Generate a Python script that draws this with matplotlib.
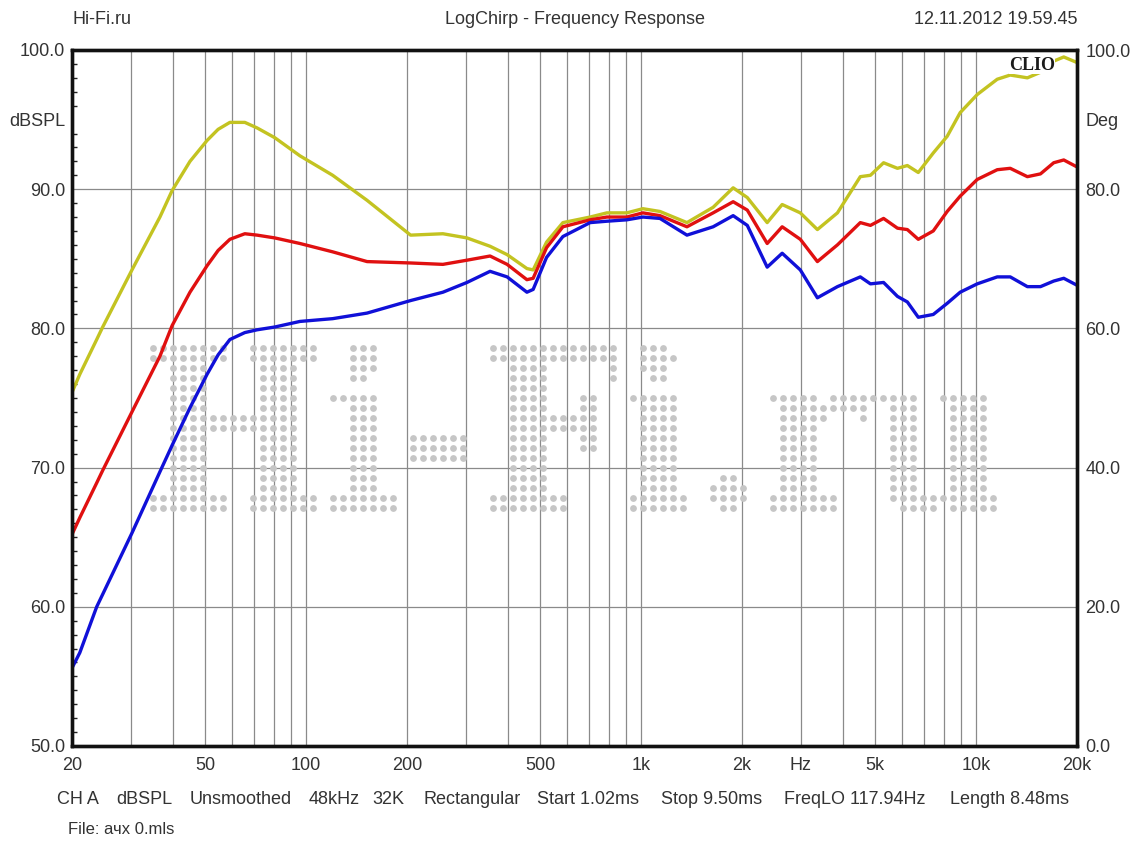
import numpy as np
import matplotlib
matplotlib.use("Agg")
import matplotlib.pyplot as plt
from matplotlib.textpath import TextPath
from matplotlib.font_manager import FontProperties
from matplotlib.ticker import FixedLocator, NullFormatter

plt.rcParams["font.family"] = ["Liberation Sans", "DejaVu Sans"]

# frequency points (Hz)
freq = [20, 21.1, 23.7, 24.7, 30.2, 36.6, 39.8, 45.0, 50.6, 54.6, 59.2, 65.6, 71.4,
        80.6, 95.8, 120, 152, 205, 256, 302, 354, 398, 456, 476, 522, 584, 704,
        790, 906, 1012, 1138, 1370, 1640, 1882, 2074, 2378, 2636, 2986, 3358,
        3854, 4510, 4836, 5292, 5822, 6232, 6718, 7446, 8194, 8960, 10074, 11560,
        12640, 14220, 15560, 17040, 18260, 20000]

yellow_db = [75.4, 76.7, 79.2, 80.1, 84.2, 88.0, 89.9, 92.0, 93.5, 94.3, 94.8, 94.8,
             94.4, 93.7, 92.4, 91.0, 89.2, 86.7, 86.8, 86.5, 85.9, 85.3, 84.3, 84.2,
             86.2, 87.6, 88.0, 88.3, 88.3, 88.6, 88.4, 87.6, 88.7, 90.1, 89.4, 87.6,
             88.9, 88.3, 87.1, 88.3, 90.9, 91.0, 91.9, 91.5, 91.7, 91.2, 92.6, 93.8,
             95.5, 96.8, 97.9, 98.2, 98.0, 98.4, 99.2, 99.5, 99.1]

red_db = [65.2, 66.4, 68.9, 69.8, 74.0, 78.0, 80.2, 82.6, 84.5, 85.6, 86.4, 86.8,
          86.7, 86.5, 86.1, 85.5, 84.8, 84.7, 84.6, 84.9, 85.2, 84.6, 83.5, 83.6,
          85.8, 87.3, 87.8, 88.0, 88.0, 88.3, 88.1, 87.3, 88.3, 89.1, 88.5, 86.1,
          87.3, 86.4, 84.8, 86.0, 87.6, 87.4, 87.9, 87.2, 87.1, 86.4, 87.0, 88.4,
          89.5, 90.7, 91.4, 91.5, 90.9, 91.1, 91.9, 92.1, 91.6]

blue_db = [55.6, 56.7, 60.0, 60.9, 65.3, 69.7, 71.6, 74.3, 76.7, 78.1, 79.2, 79.7,
           79.9, 80.1, 80.5, 80.7, 81.1, 82.0, 82.6, 83.3, 84.1, 83.7, 82.6, 82.8,
           85.1, 86.6, 87.6, 87.7, 87.8, 88.0, 87.9, 86.7, 87.3, 88.1, 87.4, 84.4,
           85.4, 84.2, 82.2, 83.0, 83.7, 83.2, 83.3, 82.3, 81.9, 80.8, 81.0, 81.8,
           82.6, 83.2, 83.7, 83.7, 83.0, 83.0, 83.4, 83.6, 83.1]

x_ticks = [20, 50, 100, 200, 500, 1000, 2000, 3000, 5000, 10000, 20000]
x_labels = ["20", "50", "100", "200", "500", "1k", "2k", "Hz", "5k", "10k", "20k"]
left_ticks = [50, 60, 70, 80, 90, 95, 100]
left_labels = ["50.0", "60.0", "70.0", "80.0", "90.0", "dBSPL", "100.0"]
right_ticks = [0, 20, 40, 60, 80, 90, 100]
right_labels = ["0.0", "20.0", "40.0", "60.0", "80.0", "Deg", "100.0"]

info_items = ["CH A", "dBSPL", "Unsmoothed", "48kHz", "32K", "Rectangular",
              "Start 1.02ms", "Stop 9.50ms", "FreqLO 117.94Hz", "Length 8.48ms"]
info_x = [57, 116, 190, 309, 372, 423, 537, 661, 784, 950]

W, H = 1137, 841
L, R, T, B = 72, 1077, 50, 746

fig = plt.figure(figsize=(W / 100, H / 100), dpi=100)
ax = fig.add_axes([L / W, 1 - B / H, (R - L) / W, (B - T) / H])
ax.set_xscale("log")
ax.set_xlim(20, 20000)
ax.set_ylim(50, 100)

# grid
grid_f = [m * d for d in (10, 100, 1000) for m in range(1, 10)]
grid_f = [g for g in grid_f if 20 < g < 20000] + [10000]
for g in grid_f:
    ax.axvline(g, color="#8a8a8a", lw=0.9, zorder=1)
for g in (60, 70, 80, 90):
    ax.axhline(g, color="#8a8a8a", lw=0.9, zorder=1)

# dotted watermark
tp = TextPath((0, 0), "Hi-Fi.ru", size=100,
              prop=FontProperties(family="DejaVu Serif", weight="bold"))
bb = tp.get_extents()
wx0, wx1, wy0, wy1 = 150, 1000, 340, 512
sx = (wx1 - wx0) / bb.width
sy = (wy1 - wy0) / bb.height
gx, gy = np.meshgrid(np.arange(wx0 + 3, wx1, 10.0), np.arange(wy0 + 8, wy1, 10.0))
gx, gy = gx.ravel(), gy.ravel()
pts = np.column_stack([bb.x0 + (gx - wx0) / sx, bb.y0 + (wy1 - gy) / sy])
inside = tp.contains_points(pts)
ax.scatter((gx[inside] - L) / (R - L), (B - gy[inside]) / (B - T), s=24,
           color="#c6c6c6", transform=ax.transAxes, zorder=2, linewidths=0)

ax.plot(freq, yellow_db, color="#c3c321", lw=2.4, zorder=4, solid_joinstyle="round")
ax.plot(freq, red_db, color="#e01010", lw=2.4, zorder=5, solid_joinstyle="round")
ax.plot(freq, blue_db, color="#1010d8", lw=2.4, zorder=6, solid_joinstyle="round")

ax.text((1032 - L) / (R - L), (B - 65) / (B - T), "CLIO", transform=ax.transAxes,
        family="Liberation Serif", weight="bold", fontsize=13,
        color="#1a1a1a", ha="center", va="center", zorder=8,
        bbox=dict(facecolor="white", edgecolor="none", pad=0.0))

ax.set_xticks(x_ticks)
ax.set_xticklabels(x_labels)
ax.xaxis.set_minor_locator(FixedLocator([]))
ax.set_yticks(left_ticks)
ax.set_yticklabels(left_labels)
ax.yaxis.set_minor_locator(FixedLocator(np.arange(51, 100, 1)))
ax.yaxis.set_minor_formatter(NullFormatter())
ax.tick_params(axis="x", length=0, pad=8, labelsize=13, labelcolor="#333333")
ax.tick_params(axis="y", which="major", length=0, pad=5, labelsize=13,
               labelcolor="#333333")
ax.tick_params(axis="y", which="minor", direction="in", length=3.5, width=1,
               left=True, right=True, color="#222222")

ax2 = ax.twinx()
ax2.set_ylim(0, 100)
ax2.set_yticks(right_ticks)
ax2.set_yticklabels(right_labels)
ax2.tick_params(axis="y", length=0, pad=6, labelsize=13, labelcolor="#333333")

for a in (ax, ax2):
    for s in a.spines.values():
        s.set_linewidth(2.4)
        s.set_color("#111111")
        s.set_zorder(10)

fig.text(72 / W, 1 - 20 / H, "Hi-Fi.ru", fontsize=13, color="#333333",
         ha="left", va="center")
fig.text(575 / W, 1 - 20 / H, "LogChirp - Frequency Response", fontsize=13,
         color="#333333", ha="center", va="center")
fig.text(1078 / W, 1 - 20 / H, "12.11.2012 19.59.45", fontsize=13,
         color="#333333", ha="right", va="center")

for item, xp in zip(info_items, info_x):
    fig.text(xp / W, 1 - 800 / H, item, fontsize=13, color="#333333",
             ha="left", va="center")
fig.text(68 / W, 1 - 829 / H, "File: ачх 0.mls", fontsize=12, color="#333333",
         ha="left", va="center")

fig.savefig("out.png", dpi=100, facecolor="white")
